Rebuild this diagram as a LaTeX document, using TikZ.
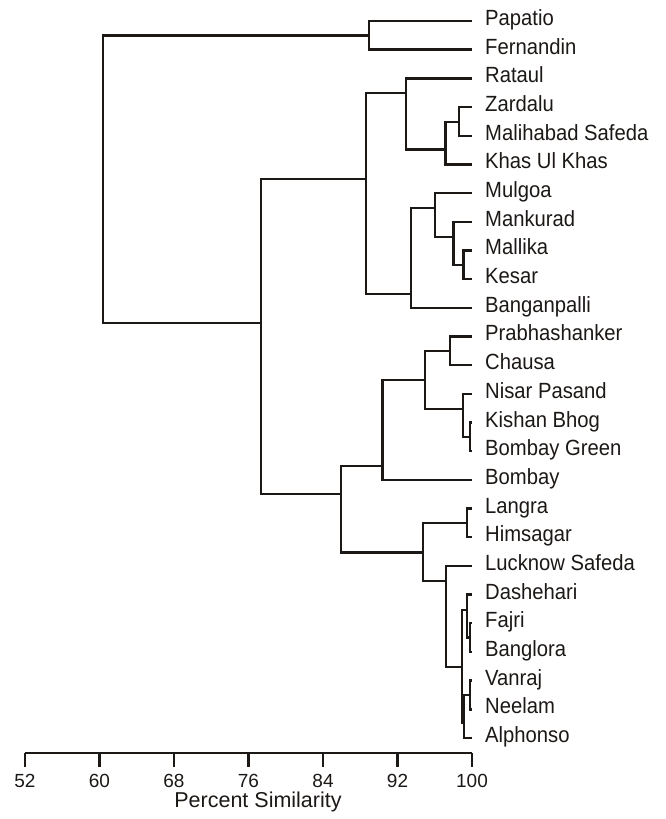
\documentclass[tikz,border=0pt]{standalone}
\usepackage{fontspec}
\setmainfont{Liberation Sans}[FakeStretch=0.92]
\newfontfamily\axisfont{Liberation Sans}
\definecolor{ink}{RGB}{28,24,22}
\begin{document}
\begin{tikzpicture}[x=1pt,y=-1pt,
  branch/.style={draw=ink,line width=2.4pt},
  leaflabel/.style={anchor=base west,inner sep=0pt,text=ink,font=\fontsize{22}{24}\selectfont},
  ticklabel/.style={anchor=base,inner sep=0pt,text=ink,font=\axisfont\fontsize{19}{21}\selectfont},
  axistitle/.style={anchor=base,inner sep=0pt,text=ink,font=\axisfont\fontsize{21.5}{24}\selectfont}]
\useasboundingbox (0,0) rectangle (666,819);
\def\xL{471.5}
% leaves
\foreach \i/\name in {0/Papatio,1/Fernandin,2/Rataul,3/Zardalu,4/Malihabad Safeda,5/Khas Ul Khas,6/Mulgoa,7/Mankurad,8/Mallika,9/Kesar,10/Banganpalli,11/Prabhashanker,12/Chausa,13/Nisar Pasand,14/Kishan Bhog,15/Bombay Green,16/Bombay,17/Langra,18/Himsagar,19/Lucknow Safeda,20/Dashehari,21/Fajri,22/Banglora,23/Vanraj,24/Neelam,25/Alphonso}{
  \coordinate (l\i) at (\xL,{21+28.68*\i});
  \node[leaflabel] (t\i) at (485,{25.5+28.68*\i}) {\name};
}
% internal nodes (x = merge level, y = stem position)
\coordinate (PF) at (369,35.3);
\coordinate (E) at (458.7,121.7);
\coordinate (D) at (445.5,149.5);
\coordinate (C) at (405.7,93);
\coordinate (I) at (463.3,265);
\coordinate (H) at (453.3,236.7);
\coordinate (G) at (435,207.7);
\coordinate (F) at (410.7,294);
\coordinate (B) at (366,179);
\coordinate (M) at (450,351);
\coordinate (O) at (470,437);
\coordinate (N) at (462.7,409);
\coordinate (L) at (425,380);
\coordinate (K) at (382.3,465.7);
\coordinate (Q) at (466.7,523);
\coordinate (W) at (470,637.6);
\coordinate (U) at (466.7,610);
\coordinate (X) at (470,695);
\coordinate (V) at (464,723);
\coordinate (T) at (461.7,666.7);
\coordinate (S) at (445.7,580.7);
\coordinate (P) at (422.7,552.3);
\coordinate (J) at (340.7,494);
\coordinate (A) at (261,323);
\coordinate (R) at (102.7,180);
% brackets
\draw[branch] (l0) -| (PF) |- (l1);
\draw[branch] (l3) -| (E) |- (l4);
\draw[branch] (E) -| (D) |- (l5);
\draw[branch] (l2) -| (C) |- (D);
\draw[branch] (l8) -| (I) |- (l9);
\draw[branch] (l7) -| (H) |- (I);
\draw[branch] (l6) -| (G) |- (H);
\draw[branch] (G) -| (F) |- (l10);
\draw[branch] (C) -| (B) |- (F);
\draw[branch] (l11) -| (M) |- (l12);
\draw[branch] (l14) -| (O) |- (l15);
\draw[branch] (l13) -| (N) |- (O);
\draw[branch] (M) -| (L) |- (N);
\draw[branch] (L) -| (K) |- (l16);
\draw[branch] (l17) -| (Q) |- (l18);
\draw[branch] (l21) -| (W) |- (l22);
\draw[branch] (l20) -| (U) |- (W);
\draw[branch] (l23) -| (X) |- (l24);
\draw[branch] (X) -| (V) |- (l25);
\draw[branch] (U) -| (T) |- (V);
\draw[branch] (l19) -| (S) |- (T);
\draw[branch] (Q) -| (P) |- (S);
\draw[branch] (K) -| (J) |- (P);
\draw[branch] (B) -| (A) |- (J);
\draw[branch] (PF) -| (R) |- (A);
% axis
\coordinate (ax0) at (25,753);
\coordinate (ax1) at (472,753);
\draw[branch] (ax0) -- (ax1);
\foreach \v in {52,60,68,76,84,92,100}{
  \coordinate (tk\v) at ({25+(\v-52)*9.3125},753);
  \draw[branch] (tk\v) -- ++(0,14);
  \node[ticklabel] (tl\v) at ({25+(\v-52)*9.3125},787) {\v};
}
\node[axistitle] (title) at (258,807) {Percent Similarity};
\end{tikzpicture}
\end{document}
